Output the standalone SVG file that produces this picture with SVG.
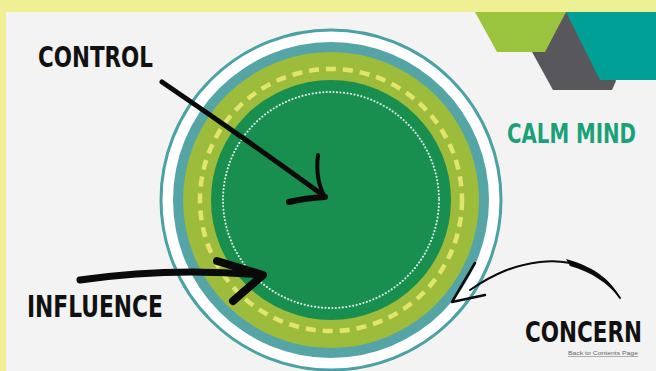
<svg xmlns="http://www.w3.org/2000/svg" width="656" height="371" viewBox="0 0 656 371">
<style>
.lbl{font-family:"DejaVu Sans Condensed","DejaVu Sans",sans-serif;font-weight:bold;fill:#111;}
.brush{fill:none;stroke:#0a0a0a;stroke-linecap:round;stroke-linejoin:round;}
</style>
<rect x="0" y="0" width="656" height="371" fill="#eef093"/>
<rect x="6" y="12" width="650" height="359" fill="#f3f3f3"/>
<g id="corner-decoration">
<polygon points="510,12 572,12 616,81 612,90 553,90" fill="#58585c"/>
<polygon points="475,12 566,12 545,52 497,52" fill="#9ac33e"/>
<polygon points="566,12 656,12 656,80 600,80" fill="#00a096"/>
</g>
<g id="circles">
<circle cx="331" cy="200" r="170" fill="#ffffff" stroke="#4aa2a4" stroke-width="3"/>
<circle cx="331" cy="200" r="158" fill="#55a5a7"/>
<circle cx="331" cy="200" r="148" fill="#9dbc3b"/>
<circle cx="331" cy="200" r="131" fill="none" stroke="#e0e56f" stroke-width="4.5" stroke-dasharray="10 7"/>
<circle cx="331" cy="200" r="120" fill="#188f4e"/>
<circle cx="331" cy="200" r="108" fill="none" stroke="#e8f4ec" stroke-width="2" stroke-dasharray="0.1 3.4" stroke-linecap="round"/>
</g>
<g id="control">
<text class="lbl" x="38" y="67" font-size="28" textLength="115" lengthAdjust="spacingAndGlyphs">CONTROL</text>
</g>
<g id="calm-mind">
<text class="lbl" x="507" y="143" font-size="27" textLength="129" lengthAdjust="spacingAndGlyphs" style="fill:#1ba179">CALM MIND</text>
</g>
<g id="influence">
<text class="lbl" x="27" y="317" font-size="31" textLength="136" lengthAdjust="spacingAndGlyphs">INFLUENCE</text>
</g>
<g id="concern">
<text class="lbl" x="525" y="342" font-size="28" textLength="117" lengthAdjust="spacingAndGlyphs">CONCERN</text>
<text x="568" y="355" font-family="Liberation Sans, sans-serif" font-size="5" fill="#666" text-decoration="underline" textLength="70" lengthAdjust="spacingAndGlyphs">Back to Contents Page</text>
</g>
<g id="connectors">
<path class="brush" d="M162,82 Q240,135 320,193" stroke-width="5"/>
<path class="brush" d="M318,155 Q315,180 325,197" stroke-width="4"/>
<path class="brush" d="M325,197 Q305,198 289,202" stroke-width="6"/>
<path class="brush" d="M80,280 Q170,267 262,275" stroke-width="7"/>
<path class="brush" d="M217,261 L263,275 L233,301" stroke-width="8"/>
<path class="brush" d="M620,298 C600,268 570,258 540,262 C515,265 495,273 470,290" stroke-width="2"/>
<path d="M620,298 C612,282 598,268 566,259 L570,266 C592,272 607,283 620,298 Z" fill="#0a0a0a"/>
<path class="brush" d="M475,263 L452,302 L485,295" stroke-width="2.5"/>
</g>
</svg>
